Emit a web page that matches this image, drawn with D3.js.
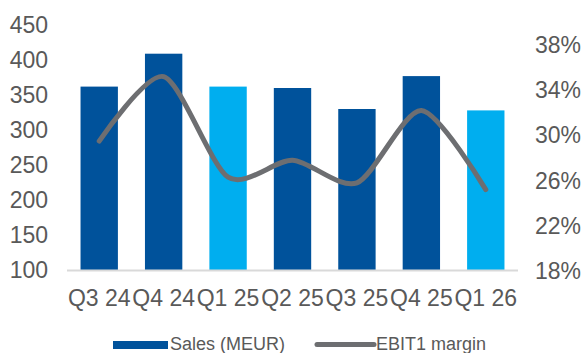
<!DOCTYPE html>
<html>
<head>
<meta charset="utf-8">
<script src="https://cdn.jsdelivr.net/npm/d3@7"></script>
<style>
  body { margin: 0; background: #fff; }
  text { font-family: Arial, "Liberation Sans", sans-serif; fill: #595959; }
</style>
</head>
<body>
<svg id="chart" width="585" height="353"></svg>
<script>
// quarters, sales and margin
let quarters = ['Q3 24', 'Q4 24', 'Q1 25', 'Q2 25', 'Q3 25', 'Q4 25', 'Q1 26']
let sales = [362, 409, 362, 360, 330, 377, 328]
let highlight = [false, false, true, false, false, false, true]
let margin = [29.5, 35.2, 26.3, 27.8, 25.8, 32.2, 25.2]
let leftTicks = [100, 150, 200, 250, 300, 350, 400, 450]
let rightTicks = [18, 22, 26, 30, 34, 38]

let svg = d3.select('#chart')

let x = d3.scaleBand()
    .domain(quarters)
    .range([67, 518])
    .paddingInner(0.42)
    .paddingOuter(0.21)
let yL = d3.scaleLinear()
    .domain([100, 450])
    .range([270, 25])
let yR = d3.scaleLinear()
    .domain([18, 38])
    .range([271, 45])

// left axis labels
svg.append('g')
    .selectAll('text')
    .data(leftTicks)
    .enter()
    .append('text')
    .attr('x', 48)
    .attr('y', d => yL(d))
    .attr('dy', '0.35em')
    .attr('text-anchor', 'end')
    .style('font-size', '23px')
    .text(d => d)

// right axis labels
svg.append('g')
    .selectAll('text')
    .data(rightTicks)
    .enter()
    .append('text')
    .attr('x', 535)
    .attr('y', d => yR(d))
    .attr('dy', '0.35em')
    .style('font-size', '23px')
    .text(d => d + '%')

// bars
svg.append('g')
    .selectAll('rect')
    .data(sales)
    .enter()
    .append('rect')
    .attr('x', (d, i) => x(quarters[i]))
    .attr('width', x.bandwidth())
    .attr('y', d => yL(d))
    .attr('height', d => yL(100) - yL(d))
    .attr('fill', (d, i) => highlight[i] ? '#00AEEF' : '#00529B')

// baseline
svg.append('line')
    .attr('x1', 67)
    .attr('x2', 518)
    .attr('y1', yL(100) + 0.5)
    .attr('y2', yL(100) + 0.5)
    .attr('stroke', '#d9d9d9')
    .attr('stroke-width', 2)

// x labels
svg.append('g')
    .selectAll('text')
    .data(quarters)
    .enter()
    .append('text')
    .attr('x', d => x(d) + x.bandwidth() / 2)
    .attr('y', 298)
    .attr('dy', '0.35em')
    .attr('text-anchor', 'middle')
    .style('font-size', '23px')
    .text(d => d)

// margin line
let line = d3.line()
    .x((d, i) => x(quarters[i]) + x.bandwidth() / 2)
    .y(d => yR(d))
    .curve(d3.curveCardinal.tension(0.2))

svg.append('path')
    .datum(margin)
    .attr('d', line)
    .attr('fill', 'none')
    .attr('stroke', '#6D6E71')
    .attr('stroke-width', 5)
    .attr('stroke-linecap', 'round')

// legend
svg.append('rect')
    .attr('x', 113)
    .attr('y', 341)
    .attr('width', 55)
    .attr('height', 8)
    .attr('fill', '#00529B')
svg.append('text')
    .attr('x', 170)
    .attr('y', 350)
    .style('font-size', '18px')
    .text('Sales (MEUR)')
svg.append('line')
    .attr('x1', 317)
    .attr('x2', 374)
    .attr('y1', 344.5)
    .attr('y2', 344.5)
    .attr('stroke', '#6D6E71')
    .attr('stroke-width', 5)
    .attr('stroke-linecap', 'round')
svg.append('text')
    .attr('x', 376)
    .attr('y', 350)
    .style('font-size', '18px')
    .text('EBIT1 margin')
</script>
</body>
</html>
